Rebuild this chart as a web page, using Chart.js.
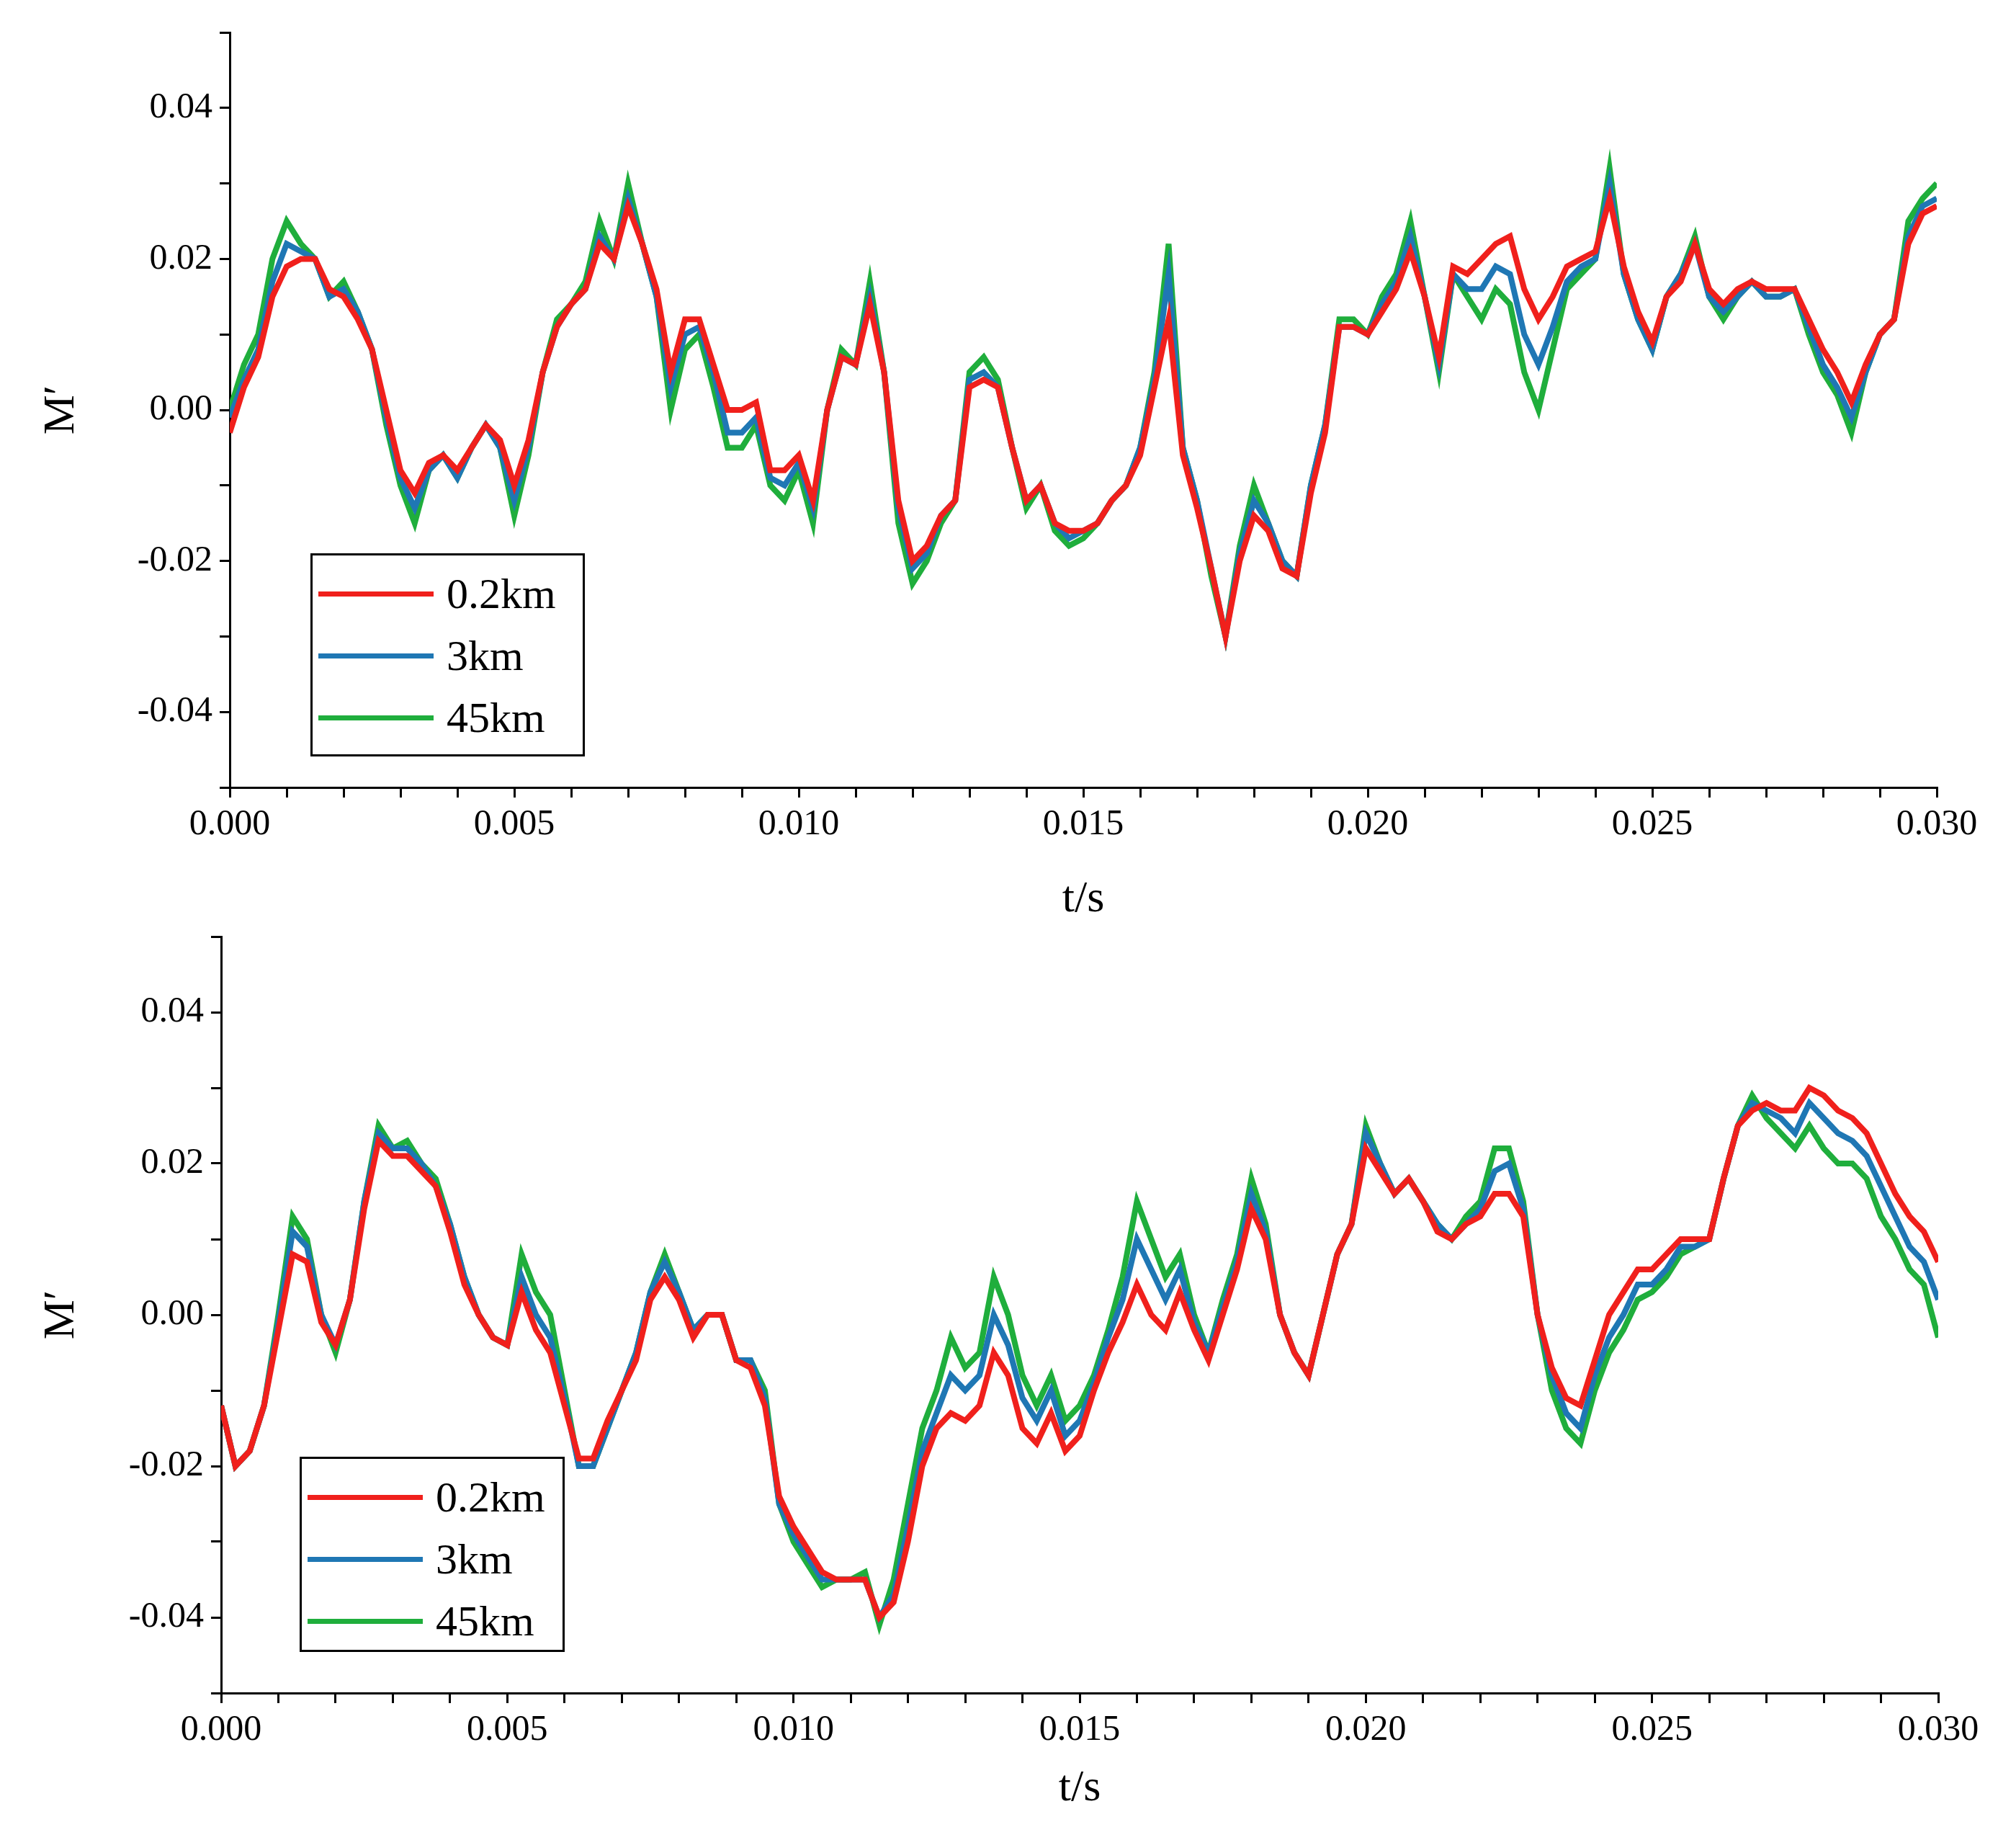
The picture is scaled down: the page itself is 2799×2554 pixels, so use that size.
<!DOCTYPE html>
<html><head><meta charset="utf-8">
<script src="https://cdn.jsdelivr.net/npm/chart.js@4/dist/chart.umd.min.js"></script>
<style>
body{margin:0;background:#fff;width:2799px;height:2554px;position:relative;overflow:hidden;font-family:"Liberation Serif",serif}
.wrap{position:absolute;left:0;width:2799px}
.leg{position:absolute;border:3px solid #000;background:#fff;padding:10px 8px;box-sizing:border-box}
.leg div{display:flex;align-items:center;height:86px;font-size:60px;color:#000}
.leg span.l{display:inline-block;width:160px;height:7px;margin-right:18px}
</style></head><body>
<div class="wrap" style="top:0;height:1290px"><canvas id="c1"></canvas></div>
<div class="wrap" style="top:1260px;height:1294px"><canvas id="c2"></canvas></div>
<div class="leg" style="left:431px;top:768px;width:381px;height:282px">
<div><span class="l" style="background:#f0201c"></span>0.2km</div>
<div><span class="l" style="background:#1f77b4"></span>3km</div>
<div><span class="l" style="background:#1fae3c"></span>45km</div></div>
<div class="leg" style="left:416px;top:2022px;width:368px;height:271px">
<div><span class="l" style="background:#f0201c"></span>0.2km</div>
<div><span class="l" style="background:#1f77b4"></span>3km</div>
<div><span class="l" style="background:#1fae3c"></span>45km</div></div>
<script>
const seriesNames=["0.2km","3km","45km"];
const colors=["#f0201c","#1f77b4","#1fae3c"];
const dt=0.00025;
const R1=[-0.003,0.003,0.007,0.015,0.019,0.020,0.020,0.016,0.015,0.012,0.008,0.000,-0.008,-0.011,-0.007,-0.006,-0.008,-0.005,-0.002,-0.004,-0.010,-0.004,0.005,0.011,0.014,0.016,0.022,0.020,0.027,0.022,0.016,0.005,0.012,0.012,0.006,0.000,0.000,0.001,-0.008,-0.008,-0.006,-0.012,0.000,0.007,0.006,0.014,0.005,-0.012,-0.020,-0.018,-0.014,-0.012,0.003,0.004,0.003,-0.005,-0.012,-0.010,-0.015,-0.016,-0.016,-0.015,-0.012,-0.010,-0.006,0.003,0.012,-0.006,-0.013,-0.021,-0.030,-0.020,-0.014,-0.016,-0.021,-0.022,-0.011,-0.003,0.011,0.011,0.010,0.013,0.016,0.021,0.015,0.007,0.019,0.018,0.020,0.022,0.023,0.016,0.012,0.015,0.019,0.020,0.021,0.028,0.019,0.013,0.009,0.015,0.017,0.022,0.016,0.014,0.016,0.017,0.016,0.016,0.016,0.012,0.008,0.005,0.001,0.006,0.010,0.012,0.022,0.026,0.027];
const B1=[-0.001,0.004,0.008,0.017,0.022,0.021,0.020,0.015,0.016,0.013,0.008,-0.001,-0.009,-0.013,-0.008,-0.006,-0.009,-0.005,-0.002,-0.005,-0.012,-0.005,0.005,0.011,0.014,0.016,0.023,0.020,0.028,0.022,0.015,0.003,0.010,0.011,0.005,-0.003,-0.003,-0.001,-0.009,-0.010,-0.007,-0.013,0.000,0.007,0.006,0.015,0.005,-0.013,-0.021,-0.019,-0.014,-0.012,0.004,0.005,0.003,-0.005,-0.012,-0.010,-0.015,-0.017,-0.016,-0.015,-0.012,-0.010,-0.005,0.004,0.018,-0.005,-0.012,-0.021,-0.030,-0.019,-0.012,-0.015,-0.020,-0.022,-0.010,-0.002,0.011,0.011,0.010,0.014,0.017,0.023,0.015,0.006,0.018,0.016,0.016,0.019,0.018,0.010,0.006,0.011,0.017,0.019,0.020,0.030,0.018,0.012,0.008,0.015,0.018,0.022,0.015,0.013,0.015,0.017,0.015,0.015,0.016,0.011,0.006,0.003,-0.001,0.005,0.010,0.012,0.023,0.027,0.028];
const G1=[0.000,0.006,0.010,0.020,0.025,0.022,0.020,0.015,0.017,0.013,0.008,-0.002,-0.010,-0.015,-0.008,-0.006,-0.009,-0.005,-0.002,-0.005,-0.014,-0.006,0.005,0.012,0.014,0.017,0.025,0.020,0.030,0.022,0.015,0.000,0.008,0.010,0.003,-0.005,-0.005,-0.002,-0.010,-0.012,-0.008,-0.015,0.000,0.008,0.006,0.017,0.005,-0.015,-0.023,-0.020,-0.015,-0.012,0.005,0.007,0.004,-0.005,-0.013,-0.010,-0.016,-0.018,-0.017,-0.015,-0.012,-0.010,-0.005,0.005,0.022,-0.005,-0.012,-0.022,-0.030,-0.018,-0.010,-0.015,-0.020,-0.022,-0.010,-0.002,0.012,0.012,0.010,0.015,0.018,0.025,0.015,0.005,0.018,0.015,0.012,0.016,0.014,0.005,0.000,0.008,0.016,0.018,0.020,0.032,0.018,0.012,0.008,0.015,0.018,0.023,0.015,0.012,0.015,0.017,0.015,0.015,0.016,0.010,0.005,0.002,-0.003,0.005,0.010,0.012,0.025,0.028,0.030];
const R2=[-0.012,-0.020,-0.018,-0.012,-0.002,0.008,0.007,-0.001,-0.004,0.002,0.014,0.023,0.021,0.021,0.019,0.017,0.011,0.004,0.000,-0.003,-0.004,0.003,-0.002,-0.005,-0.012,-0.019,-0.019,-0.014,-0.010,-0.006,0.002,0.005,0.002,-0.003,0.000,0.000,-0.006,-0.007,-0.012,-0.024,-0.028,-0.031,-0.034,-0.035,-0.035,-0.035,-0.040,-0.038,-0.030,-0.020,-0.015,-0.013,-0.014,-0.012,-0.005,-0.008,-0.015,-0.017,-0.013,-0.018,-0.016,-0.010,-0.005,-0.001,0.004,0.000,-0.002,0.003,-0.002,-0.006,0.000,0.006,0.014,0.010,0.000,-0.005,-0.008,0.000,0.008,0.012,0.022,0.019,0.016,0.018,0.015,0.011,0.010,0.012,0.013,0.016,0.016,0.013,0.000,-0.007,-0.011,-0.012,-0.006,0.000,0.003,0.006,0.006,0.008,0.010,0.010,0.010,0.018,0.025,0.027,0.028,0.027,0.027,0.030,0.029,0.027,0.026,0.024,0.020,0.016,0.013,0.011,0.007];
const B2=[-0.012,-0.020,-0.018,-0.012,-0.001,0.011,0.009,0.000,-0.004,0.002,0.015,0.024,0.022,0.022,0.020,0.017,0.012,0.005,0.000,-0.003,-0.004,0.005,0.000,-0.003,-0.011,-0.020,-0.020,-0.015,-0.010,-0.005,0.003,0.007,0.003,-0.002,0.000,0.000,-0.006,-0.006,-0.011,-0.025,-0.029,-0.032,-0.035,-0.035,-0.035,-0.035,-0.040,-0.037,-0.028,-0.018,-0.013,-0.008,-0.010,-0.008,0.000,-0.004,-0.011,-0.014,-0.010,-0.016,-0.014,-0.009,-0.003,0.002,0.010,0.006,0.002,0.006,-0.001,-0.005,0.001,0.007,0.016,0.011,0.000,-0.005,-0.008,0.000,0.008,0.012,0.024,0.020,0.016,0.018,0.015,0.012,0.010,0.012,0.014,0.019,0.020,0.014,0.000,-0.008,-0.013,-0.015,-0.008,-0.003,0.000,0.004,0.004,0.006,0.009,0.009,0.010,0.018,0.025,0.028,0.027,0.026,0.024,0.028,0.026,0.024,0.023,0.021,0.017,0.013,0.009,0.007,0.002];
const G2=[-0.012,-0.020,-0.018,-0.012,0.000,0.013,0.010,0.000,-0.005,0.002,0.015,0.025,0.022,0.023,0.020,0.018,0.012,0.005,0.000,-0.003,-0.004,0.008,0.003,0.000,-0.010,-0.020,-0.020,-0.015,-0.010,-0.005,0.003,0.008,0.003,-0.002,0.000,0.000,-0.006,-0.006,-0.010,-0.025,-0.030,-0.033,-0.036,-0.035,-0.035,-0.034,-0.041,-0.035,-0.025,-0.015,-0.010,-0.003,-0.007,-0.005,0.005,0.000,-0.008,-0.012,-0.008,-0.014,-0.012,-0.008,-0.002,0.005,0.015,0.010,0.005,0.008,0.000,-0.005,0.002,0.008,0.018,0.012,0.000,-0.005,-0.008,0.000,0.008,0.012,0.025,0.020,0.016,0.018,0.015,0.012,0.010,0.013,0.015,0.022,0.022,0.015,0.000,-0.010,-0.015,-0.017,-0.010,-0.005,-0.002,0.002,0.003,0.005,0.008,0.009,0.010,0.018,0.025,0.029,0.026,0.024,0.022,0.025,0.022,0.020,0.020,0.018,0.013,0.010,0.006,0.004,-0.003];

const F="'Liberation Serif', serif";
function pts(a){return a.map((v,i)=>({x:i*dt,y:v}));}
function make(id,h,sets,pad,yW,xH,tpb){
  const el=document.getElementById(id);
  el.parentNode.style.height=h+'px';
  return new Chart(el,{type:'line',
    data:{datasets:sets.map((s,i)=>({label:seriesNames[i],data:pts(s),borderColor:colors[i],borderWidth:8,pointRadius:0,tension:0,fill:false}))},
    options:{responsive:true,maintainAspectRatio:false,animation:false,devicePixelRatio:1,
      layout:{padding:pad},
      plugins:{legend:{display:false},tooltip:{enabled:false}},
      scales:{
        x:{type:'linear',min:0,max:0.03,afterFit:s=>{s.height=xH;},
          border:{color:'#000',width:3},
          grid:{drawOnChartArea:false,color:'#000',lineWidth:3,tickLength:14},
          ticks:{stepSize:0.001,autoSkip:false,maxRotation:0,color:'#000',font:{family:F,size:50},padding:8,
            callback:v=>{const m=Math.round(v*1000);return m%5===0?(m/1000).toFixed(3):'';}},
          title:{display:true,text:'t/s',color:'#000',font:{family:F,size:62},padding:{top:4,bottom:tpb}}},
        y:{min:-0.05,max:0.05,afterFit:s=>{s.width=yW;},
          border:{color:'#000',width:3},
          grid:{drawOnChartArea:false,color:'#000',lineWidth:3,tickLength:14},
          ticks:{stepSize:0.01,autoSkip:false,color:'#000',font:{family:F,size:50},padding:10,
            callback:v=>{const m=Math.round(v*100);return (m%2===0&&Math.abs(m)<=4)?(m/100).toFixed(2):'';}},
          title:{display:true,text:'M′',color:'#000',font:{family:F,size:62},padding:{bottom:20}}}
      }}});
}
make('c1',1290,[R1,B1,G1],{top:45,right:110,left:45,bottom:0},274,197,4);
make('c2',1294,[R2,B2,G2],{top:32,right:108,left:45,bottom:0},262,204,34);
</script></body></html>
